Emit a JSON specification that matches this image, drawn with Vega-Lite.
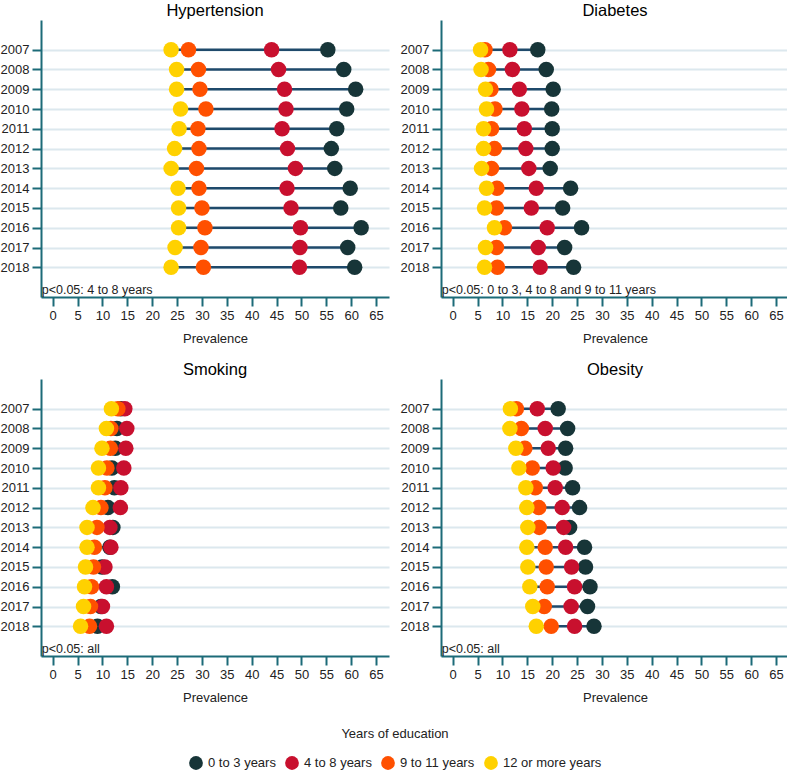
{
  "$schema": "https://vega.github.io/schema/vega-lite/v6.json",
  "padding": {"left": 0, "top": 2, "right": 0, "bottom": 0},
  "background": "white",
  "data": {"values": [
      {"panel": "Hypertension", "note": "p<0.05: 4 to 8 years"},
      {"panel": "Diabetes", "note": "p<0.05: 0 to 3, 4 to 8 and 9 to 11 years"},
      {"panel": "Smoking", "note": "p<0.05: all"},
      {"panel": "Obesity", "note": "p<0.05: all"},
      {"panel": "Hypertension", "year": 2007, "edu": "0 to 3 years", "value": 55.3},
      {"panel": "Hypertension", "year": 2007, "edu": "4 to 8 years", "value": 44.0},
      {"panel": "Hypertension", "year": 2007, "edu": "9 to 11 years", "value": 27.3},
      {"panel": "Hypertension", "year": 2007, "edu": "12 or more years", "value": 23.8},
      {"panel": "Hypertension", "year": 2008, "edu": "0 to 3 years", "value": 58.5},
      {"panel": "Hypertension", "year": 2008, "edu": "4 to 8 years", "value": 45.4},
      {"panel": "Hypertension", "year": 2008, "edu": "9 to 11 years", "value": 29.3},
      {"panel": "Hypertension", "year": 2008, "edu": "12 or more years", "value": 24.9},
      {"panel": "Hypertension", "year": 2009, "edu": "0 to 3 years", "value": 60.9},
      {"panel": "Hypertension", "year": 2009, "edu": "4 to 8 years", "value": 46.6},
      {"panel": "Hypertension", "year": 2009, "edu": "9 to 11 years", "value": 29.6},
      {"panel": "Hypertension", "year": 2009, "edu": "12 or more years", "value": 24.9},
      {"panel": "Hypertension", "year": 2010, "edu": "0 to 3 years", "value": 59.1},
      {"panel": "Hypertension", "year": 2010, "edu": "4 to 8 years", "value": 46.9},
      {"panel": "Hypertension", "year": 2010, "edu": "9 to 11 years", "value": 30.8},
      {"panel": "Hypertension", "year": 2010, "edu": "12 or more years", "value": 25.7},
      {"panel": "Hypertension", "year": 2011, "edu": "0 to 3 years", "value": 57.1},
      {"panel": "Hypertension", "year": 2011, "edu": "4 to 8 years", "value": 46.1},
      {"panel": "Hypertension", "year": 2011, "edu": "9 to 11 years", "value": 29.2},
      {"panel": "Hypertension", "year": 2011, "edu": "12 or more years", "value": 25.4},
      {"panel": "Hypertension", "year": 2012, "edu": "0 to 3 years", "value": 56.0},
      {"panel": "Hypertension", "year": 2012, "edu": "4 to 8 years", "value": 47.2},
      {"panel": "Hypertension", "year": 2012, "edu": "9 to 11 years", "value": 29.4},
      {"panel": "Hypertension", "year": 2012, "edu": "12 or more years", "value": 24.5},
      {"panel": "Hypertension", "year": 2013, "edu": "0 to 3 years", "value": 56.7},
      {"panel": "Hypertension", "year": 2013, "edu": "4 to 8 years", "value": 48.8},
      {"panel": "Hypertension", "year": 2013, "edu": "9 to 11 years", "value": 28.9},
      {"panel": "Hypertension", "year": 2013, "edu": "12 or more years", "value": 23.8},
      {"panel": "Hypertension", "year": 2014, "edu": "0 to 3 years", "value": 59.8},
      {"panel": "Hypertension", "year": 2014, "edu": "4 to 8 years", "value": 47.1},
      {"panel": "Hypertension", "year": 2014, "edu": "9 to 11 years", "value": 29.4},
      {"panel": "Hypertension", "year": 2014, "edu": "12 or more years", "value": 25.2},
      {"panel": "Hypertension", "year": 2015, "edu": "0 to 3 years", "value": 57.9},
      {"panel": "Hypertension", "year": 2015, "edu": "4 to 8 years", "value": 47.9},
      {"panel": "Hypertension", "year": 2015, "edu": "9 to 11 years", "value": 30.0},
      {"panel": "Hypertension", "year": 2015, "edu": "12 or more years", "value": 25.3},
      {"panel": "Hypertension", "year": 2016, "edu": "0 to 3 years", "value": 62.0},
      {"panel": "Hypertension", "year": 2016, "edu": "4 to 8 years", "value": 49.8},
      {"panel": "Hypertension", "year": 2016, "edu": "9 to 11 years", "value": 30.6},
      {"panel": "Hypertension", "year": 2016, "edu": "12 or more years", "value": 25.3},
      {"panel": "Hypertension", "year": 2017, "edu": "0 to 3 years", "value": 59.3},
      {"panel": "Hypertension", "year": 2017, "edu": "4 to 8 years", "value": 49.7},
      {"panel": "Hypertension", "year": 2017, "edu": "9 to 11 years", "value": 29.8},
      {"panel": "Hypertension", "year": 2017, "edu": "12 or more years", "value": 24.6},
      {"panel": "Hypertension", "year": 2018, "edu": "0 to 3 years", "value": 60.7},
      {"panel": "Hypertension", "year": 2018, "edu": "4 to 8 years", "value": 49.6},
      {"panel": "Hypertension", "year": 2018, "edu": "9 to 11 years", "value": 30.3},
      {"panel": "Hypertension", "year": 2018, "edu": "12 or more years", "value": 23.8},

      {"panel": "Diabetes", "year": 2007, "edu": "0 to 3 years", "value": 17.1},
      {"panel": "Diabetes", "year": 2007, "edu": "4 to 8 years", "value": 11.5},
      {"panel": "Diabetes", "year": 2007, "edu": "9 to 11 years", "value": 6.5},
      {"panel": "Diabetes", "year": 2007, "edu": "12 or more years", "value": 5.6},
      {"panel": "Diabetes", "year": 2008, "edu": "0 to 3 years", "value": 18.8},
      {"panel": "Diabetes", "year": 2008, "edu": "4 to 8 years", "value": 12.0},
      {"panel": "Diabetes", "year": 2008, "edu": "9 to 11 years", "value": 7.2},
      {"panel": "Diabetes", "year": 2008, "edu": "12 or more years", "value": 5.7},
      {"panel": "Diabetes", "year": 2009, "edu": "0 to 3 years", "value": 20.2},
      {"panel": "Diabetes", "year": 2009, "edu": "4 to 8 years", "value": 13.4},
      {"panel": "Diabetes", "year": 2009, "edu": "9 to 11 years", "value": 7.7},
      {"panel": "Diabetes", "year": 2009, "edu": "12 or more years", "value": 6.6},
      {"panel": "Diabetes", "year": 2010, "edu": "0 to 3 years", "value": 19.9},
      {"panel": "Diabetes", "year": 2010, "edu": "4 to 8 years", "value": 13.9},
      {"panel": "Diabetes", "year": 2010, "edu": "9 to 11 years", "value": 8.5},
      {"panel": "Diabetes", "year": 2010, "edu": "12 or more years", "value": 6.8},
      {"panel": "Diabetes", "year": 2011, "edu": "0 to 3 years", "value": 20.0},
      {"panel": "Diabetes", "year": 2011, "edu": "4 to 8 years", "value": 14.4},
      {"panel": "Diabetes", "year": 2011, "edu": "9 to 11 years", "value": 7.8},
      {"panel": "Diabetes", "year": 2011, "edu": "12 or more years", "value": 6.2},
      {"panel": "Diabetes", "year": 2012, "edu": "0 to 3 years", "value": 20.0},
      {"panel": "Diabetes", "year": 2012, "edu": "4 to 8 years", "value": 14.7},
      {"panel": "Diabetes", "year": 2012, "edu": "9 to 11 years", "value": 8.4},
      {"panel": "Diabetes", "year": 2012, "edu": "12 or more years", "value": 6.2},
      {"panel": "Diabetes", "year": 2013, "edu": "0 to 3 years", "value": 19.6},
      {"panel": "Diabetes", "year": 2013, "edu": "4 to 8 years", "value": 15.3},
      {"panel": "Diabetes", "year": 2013, "edu": "9 to 11 years", "value": 7.8},
      {"panel": "Diabetes", "year": 2013, "edu": "12 or more years", "value": 5.8},
      {"panel": "Diabetes", "year": 2014, "edu": "0 to 3 years", "value": 23.7},
      {"panel": "Diabetes", "year": 2014, "edu": "4 to 8 years", "value": 16.8},
      {"panel": "Diabetes", "year": 2014, "edu": "9 to 11 years", "value": 8.9},
      {"panel": "Diabetes", "year": 2014, "edu": "12 or more years", "value": 6.8},
      {"panel": "Diabetes", "year": 2015, "edu": "0 to 3 years", "value": 22.1},
      {"panel": "Diabetes", "year": 2015, "edu": "4 to 8 years", "value": 15.8},
      {"panel": "Diabetes", "year": 2015, "edu": "9 to 11 years", "value": 8.8},
      {"panel": "Diabetes", "year": 2015, "edu": "12 or more years", "value": 6.4},
      {"panel": "Diabetes", "year": 2016, "edu": "0 to 3 years", "value": 25.9},
      {"panel": "Diabetes", "year": 2016, "edu": "4 to 8 years", "value": 19.0},
      {"panel": "Diabetes", "year": 2016, "edu": "9 to 11 years", "value": 10.4},
      {"panel": "Diabetes", "year": 2016, "edu": "12 or more years", "value": 8.4},
      {"panel": "Diabetes", "year": 2017, "edu": "0 to 3 years", "value": 22.5},
      {"panel": "Diabetes", "year": 2017, "edu": "4 to 8 years", "value": 17.2},
      {"panel": "Diabetes", "year": 2017, "edu": "9 to 11 years", "value": 8.8},
      {"panel": "Diabetes", "year": 2017, "edu": "12 or more years", "value": 6.6},
      {"panel": "Diabetes", "year": 2018, "edu": "0 to 3 years", "value": 24.3},
      {"panel": "Diabetes", "year": 2018, "edu": "4 to 8 years", "value": 17.6},
      {"panel": "Diabetes", "year": 2018, "edu": "9 to 11 years", "value": 9.0},
      {"panel": "Diabetes", "year": 2018, "edu": "12 or more years", "value": 6.4},

      {"panel": "Smoking", "year": 2007, "edu": "0 to 3 years", "value": 13.7},
      {"panel": "Smoking", "year": 2007, "edu": "4 to 8 years", "value": 14.5},
      {"panel": "Smoking", "year": 2007, "edu": "9 to 11 years", "value": 13.1},
      {"panel": "Smoking", "year": 2007, "edu": "12 or more years", "value": 11.8},
      {"panel": "Smoking", "year": 2008, "edu": "0 to 3 years", "value": 12.9},
      {"panel": "Smoking", "year": 2008, "edu": "4 to 8 years", "value": 14.9},
      {"panel": "Smoking", "year": 2008, "edu": "9 to 11 years", "value": 11.7},
      {"panel": "Smoking", "year": 2008, "edu": "12 or more years", "value": 10.8},
      {"panel": "Smoking", "year": 2009, "edu": "0 to 3 years", "value": 12.6},
      {"panel": "Smoking", "year": 2009, "edu": "4 to 8 years", "value": 14.7},
      {"panel": "Smoking", "year": 2009, "edu": "9 to 11 years", "value": 11.6},
      {"panel": "Smoking", "year": 2009, "edu": "12 or more years", "value": 9.9},
      {"panel": "Smoking", "year": 2010, "edu": "0 to 3 years", "value": 11.9},
      {"panel": "Smoking", "year": 2010, "edu": "4 to 8 years", "value": 14.3},
      {"panel": "Smoking", "year": 2010, "edu": "9 to 11 years", "value": 10.9},
      {"panel": "Smoking", "year": 2010, "edu": "12 or more years", "value": 9.2},
      {"panel": "Smoking", "year": 2011, "edu": "0 to 3 years", "value": 12.4},
      {"panel": "Smoking", "year": 2011, "edu": "4 to 8 years", "value": 13.7},
      {"panel": "Smoking", "year": 2011, "edu": "9 to 11 years", "value": 10.5},
      {"panel": "Smoking", "year": 2011, "edu": "12 or more years", "value": 9.2},
      {"panel": "Smoking", "year": 2012, "edu": "0 to 3 years", "value": 11.1},
      {"panel": "Smoking", "year": 2012, "edu": "4 to 8 years", "value": 13.6},
      {"panel": "Smoking", "year": 2012, "edu": "9 to 11 years", "value": 9.7},
      {"panel": "Smoking", "year": 2012, "edu": "12 or more years", "value": 8.1},
      {"panel": "Smoking", "year": 2013, "edu": "0 to 3 years", "value": 12.1},
      {"panel": "Smoking", "year": 2013, "edu": "4 to 8 years", "value": 11.5},
      {"panel": "Smoking", "year": 2013, "edu": "9 to 11 years", "value": 8.9},
      {"panel": "Smoking", "year": 2013, "edu": "12 or more years", "value": 6.9},
      {"panel": "Smoking", "year": 2014, "edu": "0 to 3 years", "value": 11.5},
      {"panel": "Smoking", "year": 2014, "edu": "4 to 8 years", "value": 11.7},
      {"panel": "Smoking", "year": 2014, "edu": "9 to 11 years", "value": 8.4},
      {"panel": "Smoking", "year": 2014, "edu": "12 or more years", "value": 6.9},
      {"panel": "Smoking", "year": 2015, "edu": "0 to 3 years", "value": 9.9},
      {"panel": "Smoking", "year": 2015, "edu": "4 to 8 years", "value": 10.5},
      {"panel": "Smoking", "year": 2015, "edu": "9 to 11 years", "value": 8.2},
      {"panel": "Smoking", "year": 2015, "edu": "12 or more years", "value": 6.6},
      {"panel": "Smoking", "year": 2016, "edu": "0 to 3 years", "value": 12.0},
      {"panel": "Smoking", "year": 2016, "edu": "4 to 8 years", "value": 10.8},
      {"panel": "Smoking", "year": 2016, "edu": "9 to 11 years", "value": 7.8},
      {"panel": "Smoking", "year": 2016, "edu": "12 or more years", "value": 6.4},
      {"panel": "Smoking", "year": 2017, "edu": "0 to 3 years", "value": 9.7},
      {"panel": "Smoking", "year": 2017, "edu": "4 to 8 years", "value": 10.0},
      {"panel": "Smoking", "year": 2017, "edu": "9 to 11 years", "value": 7.6},
      {"panel": "Smoking", "year": 2017, "edu": "12 or more years", "value": 6.2},
      {"panel": "Smoking", "year": 2018, "edu": "0 to 3 years", "value": 9.0},
      {"panel": "Smoking", "year": 2018, "edu": "4 to 8 years", "value": 10.8},
      {"panel": "Smoking", "year": 2018, "edu": "9 to 11 years", "value": 7.4},
      {"panel": "Smoking", "year": 2018, "edu": "12 or more years", "value": 5.6},

      {"panel": "Obesity", "year": 2007, "edu": "0 to 3 years", "value": 21.2},
      {"panel": "Obesity", "year": 2007, "edu": "4 to 8 years", "value": 17.0},
      {"panel": "Obesity", "year": 2007, "edu": "9 to 11 years", "value": 12.8},
      {"panel": "Obesity", "year": 2007, "edu": "12 or more years", "value": 11.6},
      {"panel": "Obesity", "year": 2008, "edu": "0 to 3 years", "value": 23.1},
      {"panel": "Obesity", "year": 2008, "edu": "4 to 8 years", "value": 18.6},
      {"panel": "Obesity", "year": 2008, "edu": "9 to 11 years", "value": 13.8},
      {"panel": "Obesity", "year": 2008, "edu": "12 or more years", "value": 11.5},
      {"panel": "Obesity", "year": 2009, "edu": "0 to 3 years", "value": 22.7},
      {"panel": "Obesity", "year": 2009, "edu": "4 to 8 years", "value": 19.2},
      {"panel": "Obesity", "year": 2009, "edu": "9 to 11 years", "value": 14.5},
      {"panel": "Obesity", "year": 2009, "edu": "12 or more years", "value": 12.7},
      {"panel": "Obesity", "year": 2010, "edu": "0 to 3 years", "value": 22.6},
      {"panel": "Obesity", "year": 2010, "edu": "4 to 8 years", "value": 20.2},
      {"panel": "Obesity", "year": 2010, "edu": "9 to 11 years", "value": 16.0},
      {"panel": "Obesity", "year": 2010, "edu": "12 or more years", "value": 13.3},
      {"panel": "Obesity", "year": 2011, "edu": "0 to 3 years", "value": 24.1},
      {"panel": "Obesity", "year": 2011, "edu": "4 to 8 years", "value": 20.6},
      {"panel": "Obesity", "year": 2011, "edu": "9 to 11 years", "value": 16.6},
      {"panel": "Obesity", "year": 2011, "edu": "12 or more years", "value": 14.7},
      {"panel": "Obesity", "year": 2012, "edu": "0 to 3 years", "value": 25.5},
      {"panel": "Obesity", "year": 2012, "edu": "4 to 8 years", "value": 22.0},
      {"panel": "Obesity", "year": 2012, "edu": "9 to 11 years", "value": 17.3},
      {"panel": "Obesity", "year": 2012, "edu": "12 or more years", "value": 14.9},
      {"panel": "Obesity", "year": 2013, "edu": "0 to 3 years", "value": 23.5},
      {"panel": "Obesity", "year": 2013, "edu": "4 to 8 years", "value": 22.3},
      {"panel": "Obesity", "year": 2013, "edu": "9 to 11 years", "value": 17.4},
      {"panel": "Obesity", "year": 2013, "edu": "12 or more years", "value": 15.1},
      {"panel": "Obesity", "year": 2014, "edu": "0 to 3 years", "value": 26.5},
      {"panel": "Obesity", "year": 2014, "edu": "4 to 8 years", "value": 22.7},
      {"panel": "Obesity", "year": 2014, "edu": "9 to 11 years", "value": 18.6},
      {"panel": "Obesity", "year": 2014, "edu": "12 or more years", "value": 14.9},
      {"panel": "Obesity", "year": 2015, "edu": "0 to 3 years", "value": 26.7},
      {"panel": "Obesity", "year": 2015, "edu": "4 to 8 years", "value": 23.9},
      {"panel": "Obesity", "year": 2015, "edu": "9 to 11 years", "value": 18.8},
      {"panel": "Obesity", "year": 2015, "edu": "12 or more years", "value": 15.1},
      {"panel": "Obesity", "year": 2016, "edu": "0 to 3 years", "value": 27.6},
      {"panel": "Obesity", "year": 2016, "edu": "4 to 8 years", "value": 24.5},
      {"panel": "Obesity", "year": 2016, "edu": "9 to 11 years", "value": 19.0},
      {"panel": "Obesity", "year": 2016, "edu": "12 or more years", "value": 15.5},
      {"panel": "Obesity", "year": 2017, "edu": "0 to 3 years", "value": 27.1},
      {"panel": "Obesity", "year": 2017, "edu": "4 to 8 years", "value": 23.8},
      {"panel": "Obesity", "year": 2017, "edu": "9 to 11 years", "value": 18.4},
      {"panel": "Obesity", "year": 2017, "edu": "12 or more years", "value": 16.1},
      {"panel": "Obesity", "year": 2018, "edu": "0 to 3 years", "value": 28.4},
      {"panel": "Obesity", "year": 2018, "edu": "4 to 8 years", "value": 24.5},
      {"panel": "Obesity", "year": 2018, "edu": "9 to 11 years", "value": 19.8},
      {"panel": "Obesity", "year": 2018, "edu": "12 or more years", "value": 16.8}
  ]},
  "facet": {
    "field": "panel",
    "type": "nominal",
    "sort": ["Hypertension", "Diabetes", "Smoking", "Obesity"],
    "header": {"title": null, "labelFontSize": 16.5, "labelColor": "#000000", "labelFont": "Liberation Sans", "labelPadding": 1}
  },
  "columns": 2,
  "spacing": {"row": 16, "column": 11},
  "resolve": {"axis": {"x": "independent", "y": "independent"}},
  "spec": {
    "width": 348,
    "height": 277,
    "layer": [
      {
        "transform": [{"filter": "isValid(datum.value)"}],
        "mark": {"type": "rule", "color": "#1f4a6b", "strokeWidth": 2.5},
        "encoding": {
          "x": {"aggregate": "min", "field": "value", "type": "quantitative",
            "scale": {"domain": [-2.35, 67.6], "nice": false, "zero": false},
            "axis": {"values": [0,5,10,15,20,25,30,35,40,45,50,55,60,65], "title": "Prevalence", "grid": false, "labelOverlap": false, "labelFlush": false}},
          "x2": {"aggregate": "max", "field": "value"},
          "y": {"field": "year", "type": "quantitative",
            "scale": {"domain": [2005.5, 2019.5], "reverse": true, "nice": false, "zero": false},
            "axis": {"values": [2007,2008,2009,2010,2011,2012,2013,2014,2015,2016,2017,2018], "format": "d", "title": null, "grid": true, "gridColor": "#dce8ee", "gridWidth": 2, "labelOverlap": false, "labelFlush": false}}
        }
      },
      {
        "transform": [{"filter": "isValid(datum.value)"}],
        "mark": {"type": "circle", "size": 240, "opacity": 1},
        "encoding": {
          "x": {
            "field": "value", "type": "quantitative",
            "scale": {"domain": [-2.35, 67.6], "nice": false, "zero": false},
            "axis": {"values": [0,5,10,15,20,25,30,35,40,45,50,55,60,65], "title": "Prevalence", "grid": false, "labelOverlap": false, "labelFlush": false}
          },
          "y": {
            "field": "year", "type": "quantitative",
            "scale": {"domain": [2005.5, 2019.5], "reverse": true, "nice": false, "zero": false},
            "axis": {"values": [2007,2008,2009,2010,2011,2012,2013,2014,2015,2016,2017,2018], "format": "d", "title": null, "grid": true, "gridColor": "#dce8ee", "gridWidth": 2, "labelOverlap": false, "labelFlush": false}
          },
          "color": {
            "field": "edu", "type": "nominal",
            "scale": {"domain": ["0 to 3 years", "4 to 8 years", "9 to 11 years", "12 or more years"], "range": ["#173538", "#c8102e", "#ff5000", "#ffd100"]},
            "legend": {"title": "Years of education", "orient": "bottom", "direction": "horizontal", "titleOrient": "top", "titleAnchor": "middle", "symbolType": "circle", "symbolSize": 190, "symbolOpacity": 1, "labelFontSize": 13, "titleFontSize": 13, "titleFontWeight": "normal", "titleColor": "#222222", "labelColor": "#222222", "columnPadding": 8, "titlePadding": 14, "offset": 24}
          }
        }
      },
      {
        "transform": [{"filter": "isValid(datum.note)"}],
        "mark": {"type": "text", "align": "left", "baseline": "middle", "fontSize": 12.5, "color": "#222222", "font": "Liberation Sans"},
        "encoding": {
          "x": {"datum": -2.2, "type": "quantitative",
            "axis": {"values": [0,5,10,15,20,25,30,35,40,45,50,55,60,65], "title": "Prevalence", "grid": false, "labelOverlap": false, "labelFlush": false}},
          "y": {"datum": 2019.15, "type": "quantitative",
            "axis": {"values": [2007,2008,2009,2010,2011,2012,2013,2014,2015,2016,2017,2018], "format": "d", "title": null, "grid": true, "gridColor": "#dce8ee", "gridWidth": 2, "labelOverlap": false, "labelFlush": false}},
          "text": {"field": "note", "type": "nominal"}
        }
      }
    ]
  },
  "config": {
    "font": "Liberation Sans",
    "view": {"stroke": null},
    "axis": {
      "domainColor": "#1c6b78", "domainWidth": 2,
      "tickColor": "#1c6b78", "tickWidth": 2, "tickSize": 9,
      "labelFontSize": 13, "labelColor": "#222222", "labelFont": "Liberation Sans",
      "titleFontSize": 13, "titleFontWeight": "normal", "titleColor": "#222222", "titleFont": "Liberation Sans",
      "labelPadding": 3, "titlePadding": 10, "labelOverlap": false
    },
    "legend": {"labelFont": "Liberation Sans", "titleFont": "Liberation Sans", "layout": {"bottom": {"anchor": "middle"}}}
  }
}
